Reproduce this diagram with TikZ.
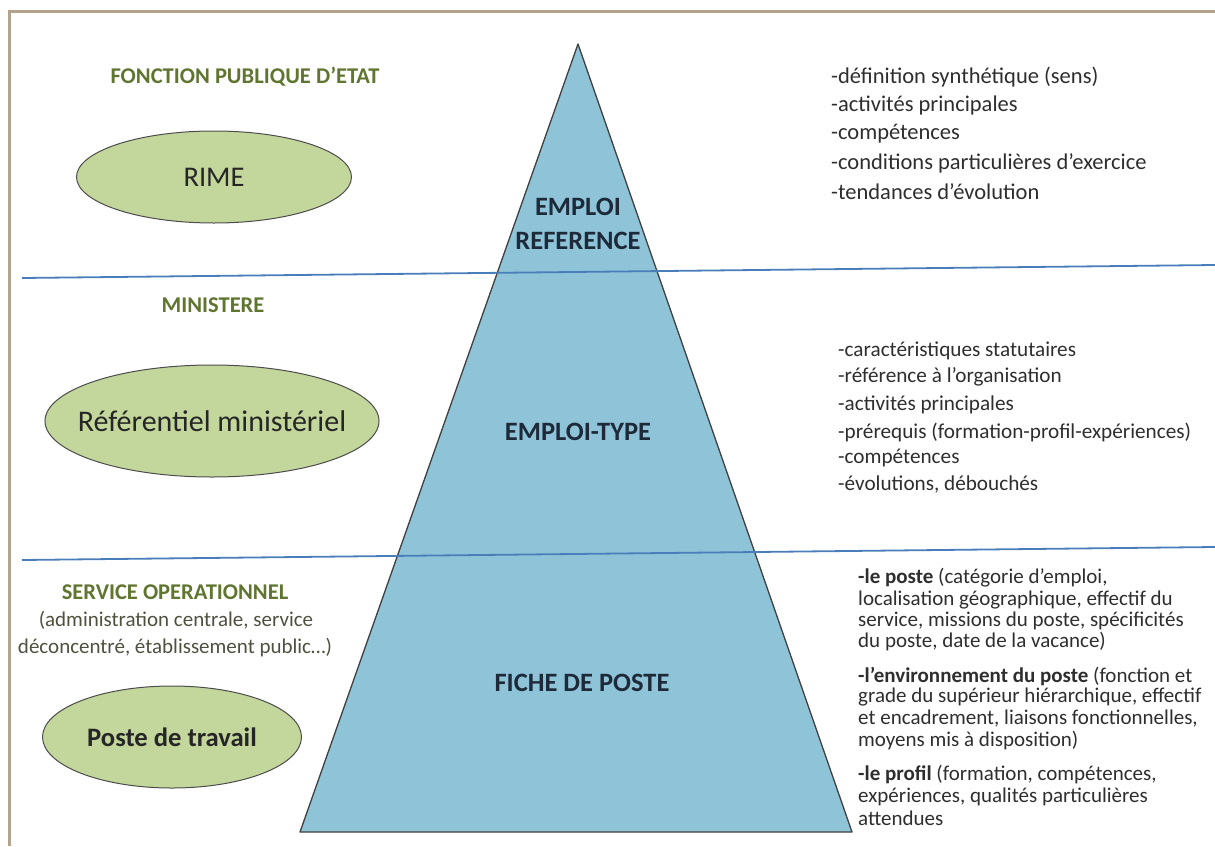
\documentclass[tikz,border=0pt]{standalone}
\usepackage{fontspec}
\setmainfont{Carlito}
\usetikzlibrary{shapes.geometric}
\definecolor{framec}{HTML}{B3A28C}
\definecolor{ellfill}{HTML}{C3D69B}
\definecolor{trifill}{HTML}{8FC4D8}
\definecolor{sepline}{HTML}{4A7EBB}
\definecolor{headc}{HTML}{5F7530}
\definecolor{subc}{HTML}{4F5040}
\definecolor{txtc}{HTML}{2E2E2E}
\definecolor{tric}{HTML}{1E2A3A}
\tikzset{
  ell/.style={ellipse, draw=black!70, line width=1pt, fill=ellfill, inner sep=0pt},
  elltext/.style={inner sep=0pt, text=black!85},
  head/.style={font=\bfseries\fontsize{22.5}{26}\selectfont, text=headc, inner sep=0pt},
  sub/.style={font=\fontsize{21}{24}\selectfont, text=subc, inner sep=0pt},
  trilabel/.style={font=\bfseries\fontsize{26.5}{34}\selectfont, text=tric, align=center, inner sep=0pt},
  itemA/.style={anchor=west, font=\fontsize{22.5}{26}\selectfont, text=txtc, inner sep=0pt},
  itemB/.style={anchor=west, font=\fontsize{21.2}{25}\selectfont, text=txtc, inner sep=0pt},
  itemC/.style={anchor=west, font=\fontsize{21}{24}\selectfont, text=txtc, inner sep=0pt},
  sep/.style={draw=sepline, line width=1.8pt}
}
\begin{document}
\begin{tikzpicture}[x=1pt,y=-1pt]
\useasboundingbox (0,0) rectangle (1215,846);
% frame
\draw[framec, line width=3pt] (9,846) -- (9,11) -- (1215,11);
% pyramid
\coordinate (apex) at (578,44);
\coordinate (bl) at (300,832);
\coordinate (br) at (852,832);
\filldraw[fill=trifill, draw=black!75, line width=1.3pt, line join=round] (apex) -- (br) -- (bl) -- cycle;
% separators
\coordinate (s1a) at (22,278);
\coordinate (s1b) at (1215,265);
\coordinate (s2a) at (22,560);
\coordinate (s2b) at (1215,547);
\draw[sep] (s1a) -- (s1b);
\draw[sep] (s2a) -- (s2b);
% pyramid labels
\node[trilabel] (er) at (578,224) {EMPLOI\\REFERENCE};
\node[trilabel] (et) at (578,432) {EMPLOI-TYPE};
\node[trilabel] (fp) at (582,683) {FICHE DE POSTE};
% left side
\node[head] (fpe) at (245,77) {FONCTION PUBLIQUE D’ETAT};
\node[ell, minimum width=275, minimum height=92] (rime) at (214,177) {};
\node[elltext, font=\fontsize{28.5}{32}\selectfont] (rimet) at (rime.center) {RIME};
\node[head] (min) at (213,305) {MINISTERE};
\node[ell, minimum width=334, minimum height=112] (refm) at (212,421) {};
\node[elltext, font=\fontsize{30}{34}\selectfont] (refmt) at (refm.center) {Référentiel ministériel};
\node[head] (so) at (175,592) {SERVICE OPERATIONNEL};
\node[sub] (so1) at (176,620) {(administration centrale, service};
\node[sub] (so2) at (175,648) {déconcentré, établissement public…)};
\node[ell, minimum width=259, minimum height=102] (pt) at (172,737) {};
\node[elltext, font=\bfseries\fontsize{26.6}{30}\selectfont] (ptt) at (pt.center) {Poste de travail};
% right lists
\node[itemA] (a1) at (831,77) {-définition synthétique (sens)};
\node[itemA] (a2) at (831,105) {-activités principales};
\node[itemA] (a3) at (831,134) {-compétences};
\node[itemA] (a4) at (831,163) {-conditions particulières d’exercice};
\node[itemA] (a5) at (831,192) {-tendances d’évolution};
\node[itemB] (b1) at (838,351) {-caractéristiques statutaires};
\node[itemB] (b2) at (838,377) {-référence à l’organisation};
\node[itemB] (b3) at (838,405) {-activités principales};
\node[itemB] (b4) at (838,432) {-prérequis (formation-profil-expériences)};
\node[itemB] (b5) at (838,458) {-compétences};
\node[itemB] (b6) at (838,484) {-évolutions, débouchés};
\node[itemC] (c1) at (858,578) {\textbf{-le poste} (catégorie d’emploi,};
\node[itemC] (c2) at (858,600) {localisation géographique, effectif du};
\node[itemC] (c3) at (858,621) {service, missions du poste, spécificités};
\node[itemC] (c4) at (858,642) {du poste, date de la vacance)};
\node[itemC] (c5) at (858,676) {\textbf{-l’environnement du poste} (fonction et};
\node[itemC] (c6) at (858,697) {grade du supérieur hiérarchique, effectif};
\node[itemC] (c7) at (858,719) {et encadrement, liaisons fonctionnelles,};
\node[itemC] (c8) at (858,741) {moyens mis à disposition)};
\node[itemC] (c9) at (858,775) {\textbf{-le profil} (formation, compétences,};
\node[itemC] (c10) at (858,797) {expériences, qualités particulières};
\node[itemC] (c11) at (858,818) {attendues};
\end{tikzpicture}
\end{document}
